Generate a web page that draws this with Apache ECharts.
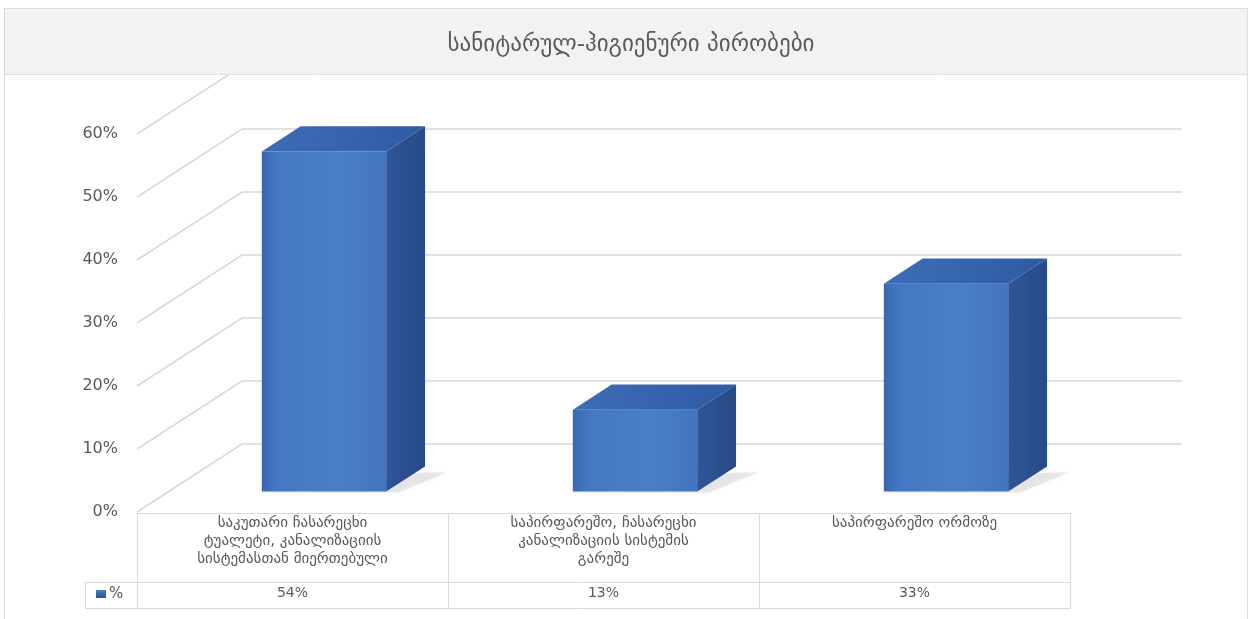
<!DOCTYPE html>
<html><head><meta charset="utf-8">
<script src="https://cdn.jsdelivr.net/npm/echarts@6/dist/echarts.min.js"></script>
<style>html,body{margin:0;padding:0;background:#fff}#c{width:1252px;height:619px}</style>
</head><body><div id="c"></div>
<script>
const chartTitle = 'სანიტარულ-ჰიგიენური პირობები';
const categories = [
  'საკუთარი ჩასარეცხი\nტუალეტი, კანალიზაციის\nსისტემასთან მიერთებული',
  'საპირფარეშო, ჩასარეცხი\nკანალიზაციის სისტემის\nგარეშე',
  'საპირფარეშო ორმოზე'
];
const seriesName = '%';
const values = [54, 13, 33];
const yTicks = [0, 10, 20, 30, 40, 50, 60];

const DX = 105, DY = -68;      // depth vector of the 3D floor
const D1 = 0.30, D2 = 0.67;    // bar front / back depth fractions
const BAR = 0.4;
const FONT = 'DejaVu Sans, sans-serif';
const TXT = '#595959';
const LINE = '#d9d9d9';

const chart = echarts.init(document.getElementById('c'), null, {renderer: 'canvas'});

function renderGrid(params, api) {
  const cs = params.coordSys;
  const y = api.coord([0, api.value(1)])[1];
  const x0 = cs.x;
  return {
    type: 'polyline',
    shape: {points: [[x0, y], [x0 + DX, y + DY], [x0 + cs.width + DX + 7, y + DY]]},
    style: {stroke: LINE, lineWidth: 1.5, fill: null}
  };
}

function renderBar(params, api) {
  const idx = api.value(0), v = api.value(1);
  const top = api.coord([idx, v]);
  const base = api.coord([idx, 0]);
  const w = api.size([1, 0])[0] * BAR;
  const x0 = base[0] - w / 2 + D1 * DX;
  const x1 = x0 + w;
  const y0 = top[1] + D1 * DY;
  const y1 = base[1] + D1 * DY;
  const ddx = (D2 - D1) * DX, ddy = (D2 - D1) * DY;
  return {
    type: 'group',
    children: [
      { type: 'polygon',
        shape: {points: [[x0 - 4, y1 + 1], [x1 + 12, y1 + 1], [x1 + ddx + 22, y1 + ddy + 6], [x1 + ddx, y1 + ddy + 6]]},
        style: {fill: 'rgba(140,140,140,0.18)', shadowBlur: 6, shadowColor: 'rgba(120,120,120,0.3)'} },
      { type: 'rect', shape: {x: x0, y: y0, width: w, height: y1 - y0},
        style: {fill: new echarts.graphic.LinearGradient(0, 0, 1, 0, [
          {offset: 0, color: '#3867b0'},
          {offset: 0.12, color: '#4478c2'},
          {offset: 0.6, color: '#4a7fc8'},
          {offset: 1, color: '#4275be'}])} },
      { type: 'polygon',
        shape: {points: [[x1, y0], [x1 + ddx, y0 + ddy], [x1 + ddx, y1 + ddy], [x1, y1]]},
        style: {fill: new echarts.graphic.LinearGradient(0, 0, 1, 0, [
          {offset: 0, color: '#2f5598'},
          {offset: 1, color: '#284a86'}])} },
      { type: 'polygon',
        shape: {points: [[x0, y0], [x0 + ddx, y0 + ddy], [x1 + ddx, y0 + ddy], [x1, y0]]},
        style: {fill: new echarts.graphic.LinearGradient(0, 0, 1, 1, [
          {offset: 0, color: '#3e6db8'},
          {offset: 1, color: '#2e5aa3'}])} }
    ]
  };
}

function renderValueRow(params, api) {
  const cs = params.coordSys;
  const x = api.coord([api.value(0), 0])[0];
  return {
    type: 'text',
    style: {text: api.value(1) + '%', x: x, y: cs.y + cs.height + 81,
      align: 'center', verticalAlign: 'middle', fill: TXT, font: '14px ' + FONT}
  };
}

const option = {
  backgroundColor: '#ffffff',
  animation: false,
  grid: {left: 137, right: 182, top: 134, bottom: 107, containLabel: false},
  xAxis: {
    type: 'category', data: categories,
    axisLine: {show: false}, axisTick: {show: false}, splitLine: {show: false},
    axisLabel: {interval: 0, color: TXT, hideOverlap: false,
      fontFamily: FONT, fontSize: 15, lineHeight: 18, margin: 2, align: 'center', verticalAlign: 'top'}
  },
  yAxis: {
    type: 'value', min: 0, max: 60, interval: 10,
    axisLine: {show: false}, axisTick: {show: false}, splitLine: {show: false},
    axisLabel: {formatter: '{value}%', color: TXT, fontFamily: FONT, fontSize: 16, margin: 19}
  },
  series: [
    {type: 'custom', name: 'grid', renderItem: renderGrid, z: 1, silent: true,
      data: yTicks.map(v => [0, v]), encode: {x: 0, y: 1}},
    {type: 'custom', name: seriesName, renderItem: renderBar, z: 2,
      data: values.map((v, i) => [i, v]), encode: {x: 0, y: 1}},
    {type: 'custom', name: 'table', renderItem: renderValueRow, z: 3,
      data: values.map((v, i) => [i, v]), encode: {x: 0, y: 1}}
  ],
  graphic: [
    {type: 'rect', shape: {x: 4.5, y: 8.5, width: 1243, height: 630}, z: 0,
      style: {fill: null, stroke: '#dcdcdc', lineWidth: 1}},
    {type: 'rect', shape: {x: 5, y: 9, width: 1242, height: 65}, z: 100,
      style: {fill: '#f2f2f2', stroke: null}},
    {type: 'line', shape: {x1: 5, y1: 74.5, x2: 1247, y2: 74.5}, z: 100,
      style: {stroke: '#e2e2e2', lineWidth: 1}},
    {type: 'text', x: 631, y: 45, z: 101,
      style: {text: chartTitle, align: 'center', verticalAlign: 'middle', fill: TXT, font: '23px ' + FONT}},
    // data table lines
    {type: 'line', shape: {x1: 137, y1: 513.5, x2: 1070, y2: 513.5}, z: 5, style: {stroke: LINE}},
    {type: 'line', shape: {x1: 85, y1: 582.5, x2: 1070, y2: 582.5}, z: 5, style: {stroke: LINE}},
    {type: 'line', shape: {x1: 85, y1: 608.5, x2: 1070, y2: 608.5}, z: 5, style: {stroke: LINE}},
    {type: 'line', shape: {x1: 85.5, y1: 582, x2: 85.5, y2: 609}, z: 5, style: {stroke: LINE}},
    {type: 'line', shape: {x1: 137.5, y1: 513, x2: 137.5, y2: 609}, z: 5, style: {stroke: LINE}},
    {type: 'line', shape: {x1: 448.5, y1: 513, x2: 448.5, y2: 609}, z: 5, style: {stroke: LINE}},
    {type: 'line', shape: {x1: 759.5, y1: 513, x2: 759.5, y2: 609}, z: 5, style: {stroke: LINE}},
    {type: 'line', shape: {x1: 1070.5, y1: 513, x2: 1070.5, y2: 609}, z: 5, style: {stroke: LINE}},
    // legend key
    {type: 'rect', shape: {x: 96, y: 590, width: 10, height: 8}, z: 5,
      style: {fill: new echarts.graphic.LinearGradient(0, 0, 0, 1, [
        {offset: 0, color: '#4a7fc8'}, {offset: 1, color: '#2c5092'}])}},
    {type: 'text', x: 109, y: 594, z: 5,
      style: {text: seriesName, align: 'left', verticalAlign: 'middle', fill: TXT, font: '15px ' + FONT}}
  ]
};
chart.setOption(option);
</script>
</body></html>
